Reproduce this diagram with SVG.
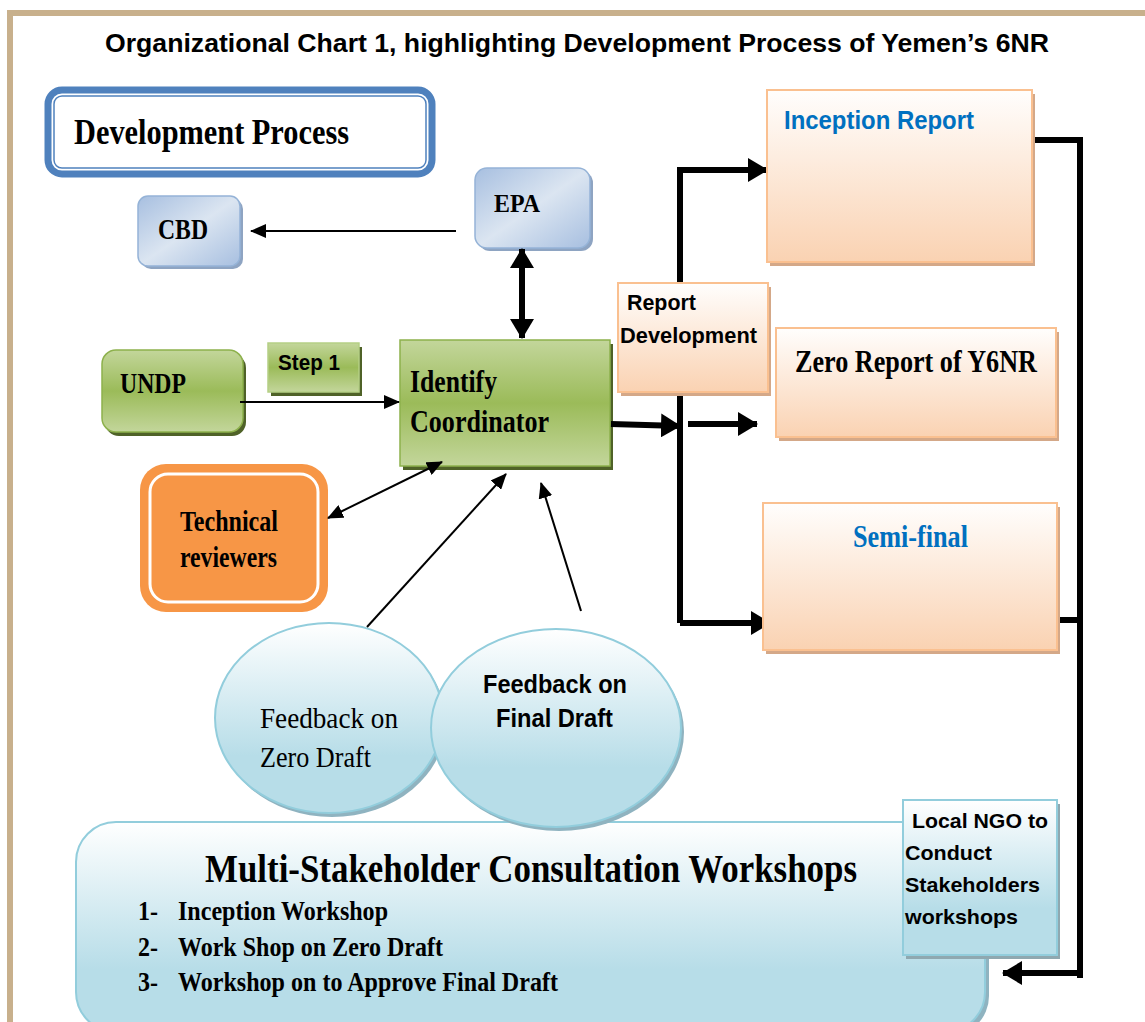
<svg xmlns="http://www.w3.org/2000/svg" width="1145" height="1022" viewBox="0 0 1145 1022">
<defs>
<style>
.t{font-family:"Liberation Serif","Times New Roman",serif;font-weight:bold;fill:#000}
.r{font-family:"Liberation Serif","Times New Roman",serif;fill:#000}
.a{font-family:"Liberation Sans",Arial,sans-serif;font-weight:bold;fill:#000}
.blue{fill:#0070c0}
.thin{stroke:#000;stroke-width:2;fill:none}
.thick{stroke:#000;stroke-width:6;fill:none}
</style>
<linearGradient id="gBlue" x1="0" y1="0" x2="1" y2="1">
<stop offset="0" stop-color="#a7bfe0"/><stop offset="0.5" stop-color="#dbe5f1"/><stop offset="1" stop-color="#a7bfe0"/>
</linearGradient>
<linearGradient id="gGreen" x1="0" y1="0" x2="0" y2="1">
<stop offset="0" stop-color="#c3d69b"/><stop offset="0.5" stop-color="#9bbb59"/><stop offset="1" stop-color="#c3d69b"/>
</linearGradient>
<linearGradient id="gPeach" x1="0" y1="0" x2="0" y2="1">
<stop offset="0" stop-color="#fffefd"/><stop offset="1" stop-color="#fad2b2"/>
</linearGradient>
<linearGradient id="gLB" x1="0" y1="0" x2="0" y2="1">
<stop offset="0" stop-color="#ffffff"/><stop offset="0.7" stop-color="#b7dde8"/><stop offset="1" stop-color="#b7dde8"/>
</linearGradient>
<marker id="ah" markerUnits="userSpaceOnUse" markerWidth="16" markerHeight="14" refX="15" refY="7" orient="auto">
<path d="M0,0 L16,7 L0,14 Z" fill="#000"/>
</marker>
<marker id="ahs" markerUnits="userSpaceOnUse" markerWidth="16" markerHeight="14" refX="1" refY="7" orient="auto">
<path d="M16,0 L0,7 L16,14 Z" fill="#000"/>
</marker>
<marker id="AH" markerUnits="userSpaceOnUse" markerWidth="20" markerHeight="24" refX="19" refY="12" orient="auto">
<path d="M0,0 L20,12 L0,24 Z" fill="#000"/>
</marker>
<marker id="AHs" markerUnits="userSpaceOnUse" markerWidth="20" markerHeight="24" refX="1" refY="12" orient="auto">
<path d="M20,0 L0,12 L20,24 Z" fill="#000"/>
</marker>
</defs>

<rect width="1145" height="1022" fill="#fff"/>
<!-- frame -->
<path d="M10,1022 V13 H1145" fill="none" stroke="#c8b08c" stroke-width="6"/>

<text class="a" x="105" y="52" font-size="26" textLength="944" lengthAdjust="spacingAndGlyphs">Organizational Chart 1, highlighting Development Process of Yemen’s 6NR</text>

<!-- Development Process -->
<g id="dev-process">
<rect x="48" y="90" width="384" height="84" rx="14" fill="#fff" stroke="#4f81bd" stroke-width="7"/>
<rect x="54" y="96" width="372" height="72" rx="8" fill="#fff" stroke="#4f81bd" stroke-width="1.5"/>
<text class="t" x="74" y="144" font-size="36" textLength="275" lengthAdjust="spacingAndGlyphs">Development Process</text>
</g>

<!-- Multi-stakeholder -->
<g id="workshops">
<rect x="80" y="826" width="909" height="210" rx="40" fill="#8fb3c0"/>
<rect x="76" y="822" width="909" height="210" rx="40" fill="url(#gLB)" stroke="#92cddc" stroke-width="2"/>
<text class="t" x="205" y="882" font-size="40" textLength="652" lengthAdjust="spacingAndGlyphs">Multi-Stakeholder Consultation Workshops</text>
<text class="t" x="138" y="920" font-size="27" textLength="20" lengthAdjust="spacingAndGlyphs">1-</text><text class="t" x="178" y="920" font-size="27" textLength="210" lengthAdjust="spacingAndGlyphs">Inception Workshop</text>
<text class="t" x="138" y="956" font-size="27" textLength="20" lengthAdjust="spacingAndGlyphs">2-</text><text class="t" x="178" y="956" font-size="27" textLength="265" lengthAdjust="spacingAndGlyphs">Work Shop on Zero Draft</text>
<text class="t" x="138" y="991" font-size="27" textLength="20" lengthAdjust="spacingAndGlyphs">3-</text><text class="t" x="178" y="991" font-size="27" textLength="380" lengthAdjust="spacingAndGlyphs">Workshop on to Approve Final Draft</text>
</g>

<!-- Ellipses -->
<g id="fb-zero">
<ellipse cx="332" cy="722" rx="114" ry="95" fill="#8fb3c0"/>
<ellipse cx="329" cy="718" rx="114" ry="95" fill="url(#gLB)" stroke="#92cddc" stroke-width="2"/>
<text class="r" x="260" y="728" font-size="30" textLength="138" lengthAdjust="spacingAndGlyphs">Feedback  on</text>
<text class="r" x="260" y="767" font-size="30" textLength="111" lengthAdjust="spacingAndGlyphs">Zero Draft</text>
</g>
<g id="fb-final">
<ellipse cx="559" cy="732" rx="125" ry="99" fill="#8fb3c0"/>
<ellipse cx="556" cy="728" rx="125" ry="99" fill="url(#gLB)" stroke="#92cddc" stroke-width="2"/>
<text class="a" x="483" y="693" font-size="25" textLength="144" lengthAdjust="spacingAndGlyphs">Feedback on</text>
<text class="a" x="496" y="727" font-size="25" textLength="117" lengthAdjust="spacingAndGlyphs">Final Draft</text>
</g>

<!-- CBD -->
<g id="cbd">
<rect x="141" y="199" width="102" height="70" rx="10" fill="#8ea4c2"/>
<rect x="138" y="196" width="102" height="70" rx="10" fill="url(#gBlue)" stroke="#95b3d7" stroke-width="1.5"/>
<text class="t" x="158" y="239" font-size="29" textLength="50" lengthAdjust="spacingAndGlyphs">CBD</text>
</g>
<!-- EPA -->
<g id="epa">
<rect x="478" y="171" width="115" height="80" rx="12" fill="#8ea4c2"/>
<rect x="475" y="168" width="115" height="80" rx="12" fill="url(#gBlue)" stroke="#95b3d7" stroke-width="1.5"/>
<text class="t" x="494" y="212" font-size="26" textLength="46" lengthAdjust="spacingAndGlyphs">EPA</text>
</g>
<!-- UNDP -->
<g id="undp">
<rect x="105" y="354" width="141" height="82" rx="14" fill="#4f6228"/>
<rect x="102" y="350" width="141" height="82" rx="14" fill="url(#gGreen)" stroke="#8db14c" stroke-width="1.5"/>
<text class="t" x="120" y="393" font-size="29" textLength="66" lengthAdjust="spacingAndGlyphs">UNDP</text>
</g>
<!-- Step 1 -->
<g id="step1">
<rect x="271" y="347" width="91" height="49" fill="#4f6228"/>
<rect x="268" y="343" width="91" height="49" fill="url(#gGreen)" stroke="#b5cf85" stroke-width="1.5"/>
<text class="a" x="278" y="370" font-size="22" textLength="62" lengthAdjust="spacingAndGlyphs">Step 1</text>
</g>
<!-- Identify Coordinator -->
<g id="coordinator">
<rect x="403" y="344" width="210" height="126" fill="#4f6228"/>
<rect x="400" y="340" width="210" height="126" fill="url(#gGreen)" stroke="#8db14c" stroke-width="1.5"/>
<text class="t" x="410" y="392" font-size="32" textLength="87" lengthAdjust="spacingAndGlyphs">Identify</text>
<text class="t" x="410" y="432" font-size="32" textLength="139" lengthAdjust="spacingAndGlyphs">Coordinator</text>
</g>
<!-- Technical reviewers -->
<g id="tech">
<rect x="140" y="464" width="188" height="148" rx="26" fill="#f79646"/>
<rect x="150" y="474" width="168" height="128" rx="18" fill="#f79646" stroke="#fff" stroke-width="3"/>
<text class="t" x="180" y="531" font-size="30" textLength="98" lengthAdjust="spacingAndGlyphs">Technical</text>
<text class="t" x="180" y="567" font-size="30" textLength="97" lengthAdjust="spacingAndGlyphs">reviewers</text>
</g>

<!-- connectors -->
<g id="connectors">
<line class="thin" x1="456" y1="231" x2="251" y2="231" marker-end="url(#ah)"/>
<line class="thick" x1="522" y1="249" x2="522" y2="338" marker-start="url(#AHs)" marker-end="url(#AH)"/>
<line class="thin" x1="240" y1="402" x2="399" y2="402" marker-end="url(#ah)"/>
<line class="thin" x1="328" y1="518" x2="442" y2="462" marker-start="url(#ahs)" marker-end="url(#ah)"/>
<line class="thin" x1="367" y1="627" x2="506" y2="474" marker-end="url(#ah)"/>
<line class="thin" x1="581" y1="611" x2="541" y2="483" marker-end="url(#ah)"/>
<path class="thick" d="M680,623 V170 H767" marker-end="url(#AH)"/>
<line class="thick" x1="611" y1="424" x2="680" y2="426" marker-end="url(#AH)"/>
<line class="thick" x1="688" y1="424" x2="757" y2="424" marker-end="url(#AH)"/>
<line class="thick" x1="680" y1="623" x2="770" y2="623" marker-end="url(#AH)"/>
<path class="thick" d="M1032,140 H1080 V978"/>
<line class="thick" x1="1057" y1="620" x2="1080" y2="620"/>
<line class="thick" x1="1080" y1="973" x2="1003" y2="973" marker-end="url(#AH)"/>
</g>

<!-- Report Development -->
<g id="report-dev">
<rect x="621" y="287" width="150" height="109" fill="#d4a888"/>
<rect x="618" y="283" width="150" height="109" fill="url(#gPeach)" stroke="#fac090" stroke-width="2"/>
<text class="a" x="627" y="310" font-size="22" textLength="69" lengthAdjust="spacingAndGlyphs">Report</text>
<text class="a" x="620" y="343" font-size="22" textLength="137" lengthAdjust="spacingAndGlyphs">Development</text>
</g>
<!-- Inception Report -->
<g id="inception">
<rect x="770" y="94" width="265" height="172" fill="#d4a888"/>
<rect x="767" y="90" width="265" height="172" fill="url(#gPeach)" stroke="#fac090" stroke-width="2"/>
<text class="a blue" x="784" y="129" font-size="26" textLength="190" lengthAdjust="spacingAndGlyphs">Inception Report</text>
</g>
<!-- Zero Report -->
<g id="zero-report">
<rect x="779" y="332" width="280" height="109" fill="#d4a888"/>
<rect x="776" y="328" width="280" height="109" fill="url(#gPeach)" stroke="#fac090" stroke-width="2"/>
<text class="t" x="795" y="372" font-size="32" textLength="242" lengthAdjust="spacingAndGlyphs">Zero Report of Y6NR</text>
</g>
<!-- Semi-final -->
<g id="semi-final">
<rect x="766" y="507" width="294" height="147" fill="#d4a888"/>
<rect x="763" y="503" width="294" height="147" fill="url(#gPeach)" stroke="#fac090" stroke-width="2"/>
<text class="t blue" x="853" y="547" font-size="32" textLength="115" lengthAdjust="spacingAndGlyphs">Semi-final</text>
</g>
<!-- Local NGO -->
<g id="local-ngo">
<rect x="906" y="804" width="154" height="155" fill="#8fa8b0"/>
<rect x="903" y="800" width="154" height="155" fill="url(#gLB)" stroke="#92cddc" stroke-width="2"/>
<text class="a" x="912" y="828" font-size="21" textLength="136" lengthAdjust="spacingAndGlyphs">Local NGO to</text>
<text class="a" x="905" y="860" font-size="21" textLength="87" lengthAdjust="spacingAndGlyphs">Conduct</text>
<text class="a" x="905" y="892" font-size="21" textLength="135" lengthAdjust="spacingAndGlyphs">Stakeholders</text>
<text class="a" x="905" y="924" font-size="21" textLength="113" lengthAdjust="spacingAndGlyphs">workshops</text>
</g>
</svg>
